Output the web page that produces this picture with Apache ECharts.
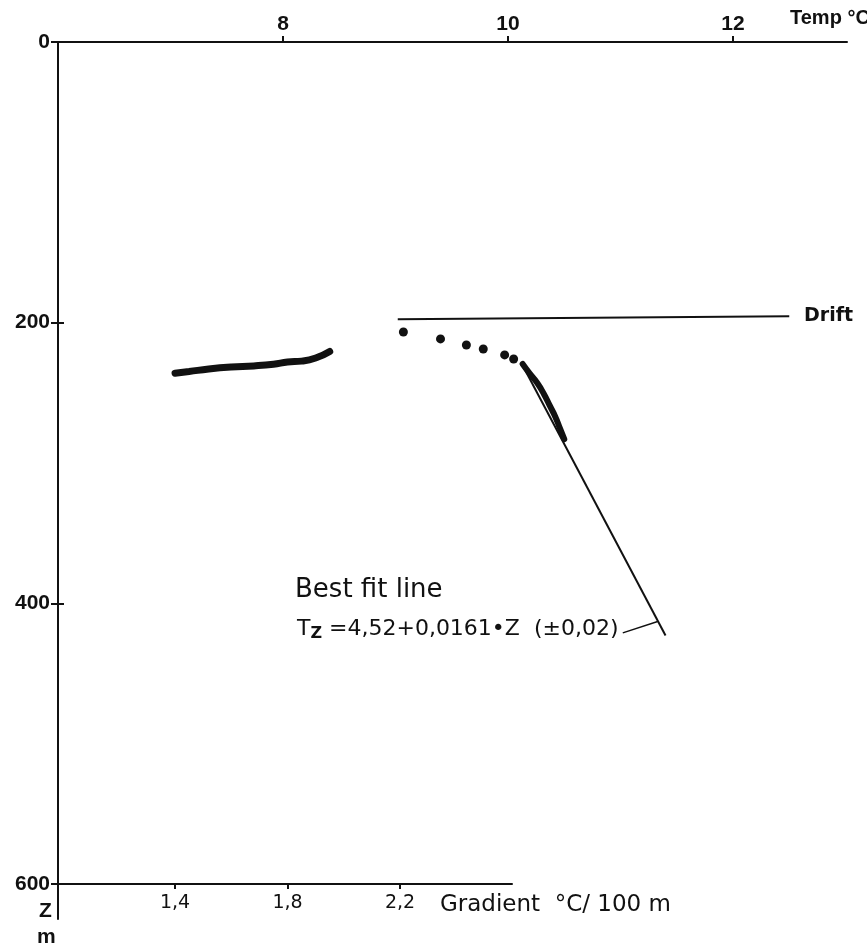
<!DOCTYPE html>
<html><head><meta charset="utf-8">
<script src="https://cdn.jsdelivr.net/npm/echarts@6/dist/echarts.min.js"></script>
<style>html,body{margin:0;padding:0;background:#fff}#c{width:867px;height:951px}</style>
</head><body><div id="c"></div>
<script>
// ---- data ----
const tempTicks = [8, 10, 12];
const depthTicks = [0, 200, 400, 600];
const gradTicks = [1.4, 1.8, 2.2];
// drift line: [temp, depth]
const driftLine = [[9.02, 197.5], [12.5, 195.5]];
// shallow temperature points: [temp, depth]
const tempDots = [[9.07, 206.7], [9.40, 211.6], [9.63, 215.9], [9.78, 218.8], [9.97, 223.0], [10.05, 225.9]];
// measured temperature log (thick): [temp, depth]
const tempLog = [[10.13, 229.5], [10.19, 236], [10.26, 243], [10.32, 251], [10.37, 259], [10.42, 267], [10.46, 275], [10.50, 283]];
// best fit line: [temp, depth]
const fitLine = [[10.12, 229], [11.40, 423]];
// leader from equation to fit line
const leader = [[11.02, 421.1], [11.33, 413.0]];
// gradient log (thick): [gradient, depth]
const gradLog = [[1.40, 236.0], [1.45, 234.8], [1.52, 233.0], [1.60, 231.6], [1.68, 230.8], [1.75, 229.6], [1.80, 228.0], [1.85, 227.4], [1.90, 225.2], [1.95, 220.5]];

const FONT = 'DejaVu Sans';
const TFONT = 'Liberation Sans';
const K = '#111';
const chart = echarts.init(document.getElementById('c'), null, {renderer: 'canvas'});
const lbl = {color: K, fontFamily: TFONT, fontWeight: 'bold', fontSize: 21};
chart.setOption({
  animation: false,
  backgroundColor: '#fff',
  grid: [
    {left: 58, top: 42, width: 789, height: 877},
    {left: 58, top: 42, width: 454, height: 842}
  ],
  xAxis: [
    {gridIndex: 0, type: 'value', position: 'top', min: 6, max: 13.013,
     axisLine: {onZero: false, lineStyle: {color: K, width: 2}},
     axisTick: {length: 6, lineStyle: {color: K, width: 2}, customValues: tempTicks},
     axisLabel: Object.assign({customValues: tempTicks, margin: 7}, lbl),
     splitLine: {show: false}},
    {gridIndex: 1, type: 'value', position: 'bottom', min: 0.984, max: 2.598,
     axisLine: {onZero: false, lineStyle: {color: K, width: 2}},
     axisTick: {length: 5, lineStyle: {color: K, width: 2}, customValues: gradTicks},
     axisLabel: Object.assign({customValues: gradTicks, margin: 10, formatter: v => v.toFixed(1).replace('.', ',')}, lbl, {fontFamily: FONT, fontWeight: 'normal', fontSize: 19}),
     splitLine: {show: false}}
  ],
  yAxis: [
    {gridIndex: 0, type: 'value', inverse: true, min: 0, max: 625, position: 'left',
     axisLine: {onZero: false, lineStyle: {color: K, width: 2}},
     axisTick: {length: 7, lineStyle: {color: K, width: 2}, customValues: depthTicks},
     axisLabel: Object.assign({customValues: depthTicks, margin: 8}, lbl),
     splitLine: {show: false}},
    {gridIndex: 1, type: 'value', inverse: true, min: 0, max: 600, position: 'left',
     axisLine: {onZero: false, lineStyle: {color: K, width: 2}},
     axisTick: {inside: true, length: 6, lineStyle: {color: K, width: 2}, customValues: depthTicks.slice(1)},
     axisLabel: {show: false}, splitLine: {show: false}}
  ],
  series: [
    {type: 'line', xAxisIndex: 0, yAxisIndex: 0, data: driftLine, symbol: 'none', lineStyle: {color: K, width: 2}},
    {type: 'scatter', xAxisIndex: 0, yAxisIndex: 0, data: tempDots, symbol: 'circle', symbolSize: 9, itemStyle: {color: K, opacity: 1}},
    {type: 'line', xAxisIndex: 0, yAxisIndex: 0, data: fitLine, symbol: 'none', lineStyle: {color: K, width: 2}},
    {type: 'line', xAxisIndex: 0, yAxisIndex: 0, data: tempLog, symbol: 'none', smooth: true, lineStyle: {color: K, width: 6, cap: 'round'}},
    {type: 'line', xAxisIndex: 0, yAxisIndex: 0, data: leader, symbol: 'none', lineStyle: {color: K, width: 1.5}},
    {type: 'line', xAxisIndex: 1, yAxisIndex: 1, data: gradLog, symbol: 'none', smooth: true, lineStyle: {color: K, width: 7, cap: 'round'}}
  ],
  graphic: [
    {type: 'text', left: 790, top: 8, style: {text: 'Temp °C', font: 'bold 20px "Liberation Sans"', fill: K}},
    {type: 'text', left: 804, top: 307, style: {text: 'Drift', font: 'bold 19px "DejaVu Sans"', fill: K}},
    {type: 'text', left: 295, top: 577, style: {text: 'Best fit line', font: '26px "DejaVu Sans"', fill: K}},
    {type: 'text', left: 297, top: 618, style: {
      text: '{t|T}{s|Z}{t| =4,52+0,0161•Z  (±0,02)}',
      rich: {t: {fontFamily: FONT, fontSize: 22, fill: K}, s: {fontFamily: FONT, fontSize: 16, fontWeight: 'bold', fill: K, verticalAlign: 'bottom', padding: [9, 0, 0, 0]}}}},
    {type: 'text', left: 440, top: 894, style: {text: 'Gradient  °C/ 100 m', font: '23px "DejaVu Sans"', fill: K}},
    {type: 'text', left: 39, top: 901, style: {text: 'Z', font: 'bold 21px "Liberation Sans"', fill: K}},
    {type: 'text', left: 37, top: 927, style: {text: 'm', font: 'bold 21px "Liberation Sans"', fill: K}}
  ]
});
</script></body></html>
